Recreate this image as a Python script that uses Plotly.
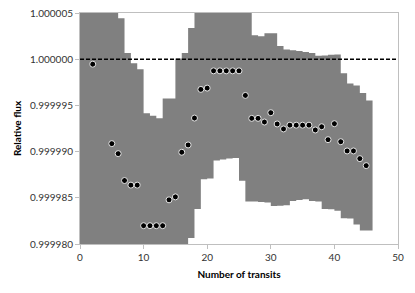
import plotly.graph_objects as go
import numpy as np

# transit counts with a measured point, and deviation from 1 (in ppm)
transits = [2, 5, 6, 7, 8, 9, 10, 11, 12, 13, 14, 15, 16, 17, 18, 19, 20,
            21, 22, 23, 24, 25, 26, 27, 28, 29, 30, 31, 32, 33, 34, 35, 36,
            37, 38, 39, 40, 41, 42, 43, 44, 45]
flux_ppm = [-0.54, -9.14, -10.22, -13.13, -13.63, -13.63, -18.02, -18.02,
            -18.02, -18.02, -15.22, -14.90, -10.07, -9.28, -6.37, -3.27,
            -3.13, -1.26, -1.26, -1.26, -1.26, -1.26, -3.92, -6.40, -6.40,
            -6.80, -5.79, -7.01, -7.55, -7.14, -7.14, -7.14, -7.14, -7.66,
            -7.31, -8.71, -6.98, -8.93, -9.93, -9.93, -10.76, -11.52]

# band edges (ppm) for each unit step [k, k+1], k = 0..45
band_upper = [7, 7, 7, 7, 7, 7, 4.43, 0.66, -0.45, -1.08, -5.86, -6.13,
              -6.40, -4.24, -4.24, 0.08, 0.68, 3.38, 7, 7, 7, 7, 7, 7, 7,
              7, 7, 2.59, 2.48, 2.80, 2.80, 1.44, 1.05, 0.97, 0.90, 0.79,
              0.66, 0.36, 0.40, 0.47, 0.50, -1.52, -2.62, -2.84, -3.67,
              -4.46]
band_lower = [-22, -22, -22, -22, -22, -22, -22, -22, -22, -22, -22, -22,
              -22, -22, -22, -22, -22, -19.35, -16.2, -13.0, -12.9, -10.95,
              -10.85, -10.75, -10.7, -13.15, -15.4, -15.4, -15.45, -15.5,
              -15.9, -15.85, -15.8, -15.35, -15.25, -15.15, -15.35, -15.4,
              -16.2, -16.25, -16.4, -17.2, -17.25, -17.9, -18.55, -18.55]

x_ticks = [0, 10, 20, 30, 40, 50]
y_ticks = [0.99998, 0.999985, 0.99999, 0.999995, 1.0, 1.000005]

band_x = list(range(len(band_upper) + 1))
up = 1 + np.array(band_upper + band_upper[-1:]) * 1e-6
lo = 1 + np.array(band_lower + band_lower[-1:]) * 1e-6
pts = 1 + np.array(flux_ppm) * 1e-6

grey = "#808080"
font = "Lato, 'Open Sans', sans-serif"

fig = go.Figure()

fig.add_trace(go.Scatter(x=band_x, y=lo, mode="lines", line=dict(width=0, shape="hv"),
                         hoverinfo="skip"))
fig.add_trace(go.Scatter(x=band_x, y=up, mode="lines", line=dict(width=0, shape="hv"),
                         fill="tonexty", fillcolor=grey, hoverinfo="skip"))

# reference line at unity
fig.add_trace(go.Scatter(x=[0, 50], y=[1, 1], mode="lines",
                         line=dict(color="black", width=1.5, dash="4px,2px")))

fig.add_trace(go.Scatter(x=transits, y=pts, mode="markers",
                         marker=dict(size=6, color="black",
                                     line=dict(color="#e6e6e6", width=1))))

fig.update_layout(
    width=415, height=293,
    margin=dict(l=80, r=17, t=13, b=49),
    plot_bgcolor="white", paper_bgcolor="white",
    showlegend=False,
    font=dict(family=font, size=10, color="#333333"),
    xaxis=dict(range=[0, 50], tickvals=x_ticks, showgrid=False, zeroline=False,
               showline=True, linecolor="#bfbfbf", linewidth=1, mirror=True,
               ticks="outside", ticklen=4, tickcolor="#bfbfbf", automargin=False,
               title=dict(text="<b>Number of transits</b>", standoff=8,
                          font=dict(size=10, color="black"))),
    yaxis=dict(range=[0.99998, 1.000005], tickvals=y_ticks, tickformat=".6f",
               showgrid=False, zeroline=False,
               showline=True, linecolor="#bfbfbf", linewidth=1, mirror=True,
               ticks="outside", ticklen=4, tickcolor="#bfbfbf", automargin=False,
               title=dict(text="<b>Relative flux</b>", standoff=6,
                          font=dict(size=10, color="black"))),
)

fig.write_html("out.html", config={"displayModeBar": False},
               post_script="document.body.style.margin='0';")
